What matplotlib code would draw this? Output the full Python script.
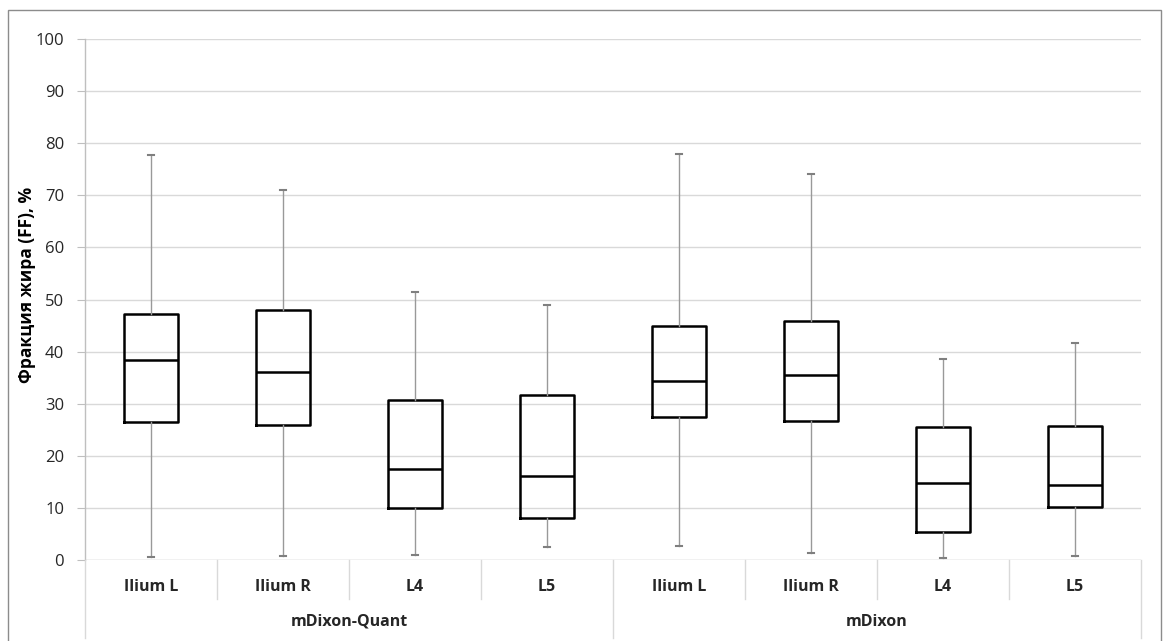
import matplotlib
matplotlib.use("Agg")
import matplotlib.pyplot as plt
from matplotlib.patches import Rectangle
from matplotlib.lines import Line2D
import matplotlib.transforms as mtransforms

plt.rcParams['font.family'] = ['Open Sans', 'DejaVu Sans']

# data (%)
groups = ["mDixon-Quant", "mDixon"]
regions = ["Ilium L", "Ilium R", "L4", "L5"]
mins = [0.5, 0.8, 1.0, 2.4, 2.7, 1.3, 0.3, 0.8]
q1s = [26.5, 25.9, 10.0, 8.0, 27.5, 26.7, 5.3, 10.1]
medians = [38.3, 36.0, 17.5, 16.2, 34.3, 35.6, 14.7, 14.3]
q3s = [47.3, 48.0, 30.7, 31.6, 45.0, 45.8, 25.5, 25.8]
maxs = [77.8, 71.0, 51.5, 49.0, 77.9, 74.0, 38.5, 41.7]

W, H = 1163, 641
fig = plt.figure(figsize=(W / 100, H / 100), dpi=100)
ax = fig.add_axes([85 / W, 1 - 560 / H, (1141 - 85) / W, (560 - 39) / H])

stats = []
for i in range(len(mins)):
    stats.append(dict(whislo=mins[i], q1=q1s[i], med=medians[i], q3=q3s[i],
                      whishi=maxs[i], fliers=[]))

ax.bxp(stats, positions=range(len(stats)), widths=0.41, capwidths=0.05,
       showfliers=False, patch_artist=False,
       boxprops=dict(color='black', linewidth=1.8),
       medianprops=dict(color='black', linewidth=1.8),
       whiskerprops=dict(color='#999999', linewidth=1.0),
       capprops=dict(color='#7f7f7f', linewidth=1.5))

ax.set_xlim(-0.5, 7.5)
ax.set_ylim(0, 100)
ax.set_yticks(range(0, 101, 10))
ax.set_xticks([])
ax.yaxis.grid(True, color='#d9d9d9', linewidth=1.0)
ax.set_axisbelow(True)
for s in ['top', 'right', 'bottom']:
    ax.spines[s].set_visible(False)
ax.spines['left'].set_color('#bfbfbf')
ax.spines['left'].set_linewidth(1.0)
ax.axhline(0, color='#d9d9d9', linewidth=1.0)
ax.tick_params(axis='y', length=6, color='#bfbfbf', labelsize=12, pad=9,
               labelcolor='#262626')

fig.text(27 / W, 1 - 285 / H, "Фракция жира (FF), %", rotation=90,
         ha='center', va='center', fontsize=12.5, fontweight='bold',
         color='black')

# category axis with two label levels
trans = mtransforms.blended_transform_factory(ax.transData, fig.transFigure)
y0 = 1 - 560 / H
y_cat = 1 - 599 / H
y_grp = 1 - 638 / H
labels = regions + regions
for i, lab in enumerate(labels):
    ax.text(i, 1 - 587 / H, lab, transform=trans, ha='center', va='center',
            fontsize=11.5, fontweight='bold', color='#262626')
for k, g in enumerate(groups):
    ax.text(1.5 + 4 * k, 1 - 622 / H, g, transform=trans, ha='center',
            va='center', fontsize=11.5, fontweight='bold', color='#262626')
for xs in [0.5, 1.5, 2.5, 4.5, 5.5, 6.5]:
    fig.add_artist(Line2D([xs, xs], [y0, y_cat], transform=trans,
                          color='#d9d9d9', linewidth=1.0))
for xs in [-0.5, 3.5, 7.5]:
    fig.add_artist(Line2D([xs, xs], [y0, y_grp], transform=trans,
                          color='#d9d9d9', linewidth=1.0))

# outer chart border
fig.add_artist(Rectangle((8 / W, -0.01), (1161 - 8) / W, 1.01 - 10 / H,
                         transform=fig.transFigure, fill=False,
                         edgecolor='#8c8c8c', linewidth=1.0))

fig.savefig("out.png", dpi=100)
